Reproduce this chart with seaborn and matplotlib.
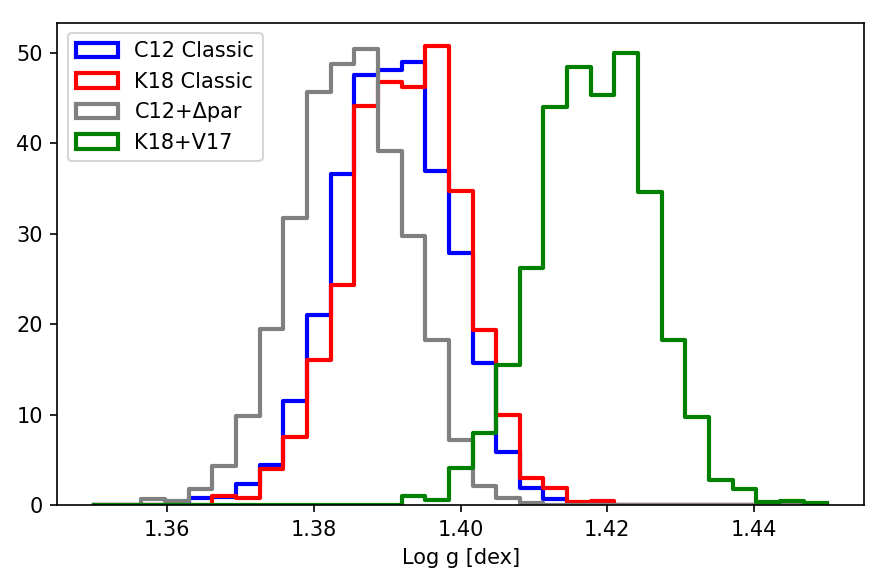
import numpy as np
import matplotlib
matplotlib.use("Agg")
import matplotlib.pyplot as plt
from matplotlib.patches import Patch
import seaborn as sns

# 31 bins between 1.35 and 1.45, heights are densities
nbins = 31
lo, hi = 1.35, 1.45
edges = np.linspace(lo, hi, nbins + 1)
centers = 0.5 * (edges[:-1] + edges[1:])

labels = ["C12 Classic", "K18 Classic", "C12+Δpar", "K18+V17"]
colors = ["blue", "red", "grey", "green"]

c12_classic = [0, 0, 0, 0, 0.73, 0.85, 2.32, 4.41, 11.48, 20.97,
               36.6, 47.5, 48.1, 48.97, 36.98, 27.85, 15.7, 5.89, 1.84, 0.63,
               0, 0, 0, 0, 0, 0, 0, 0, 0, 0, 0]
k18_classic = [0, 0, 0, 0, 0, 0.99, 0.73, 3.94, 7.54, 16.0,
               24.36, 44.15, 46.8, 46.2, 50.8, 34.7, 19.3, 9.93, 3.02, 1.84,
               0.3, 0.42, 0, 0, 0, 0, 0, 0, 0, 0, 0]
c12_dpar = [0, 0, 0.7, 0.47, 1.73, 4.34, 9.86, 19.5, 31.7, 45.7,
            48.8, 50.4, 39.1, 29.7, 18.3, 7.2, 2.1, 0.77, 0.26, 0,
            0, 0, 0, 0, 0, 0, 0, 0, 0, 0, 0]
k18_v17 = [0, 0, 0, 0, 0, 0, 0, 0, 0, 0,
           0, 0, 0, 1.05, 0.6, 4.14, 8.0, 15.45, 26.2, 43.96,
           48.45, 45.3, 50.0, 34.66, 18.2, 9.75, 2.76, 1.73, 0.29, 0.44, 0.18]

series = [c12_classic, k18_classic, c12_dpar, k18_v17]

dpi = 150
fig = plt.figure(figsize=(886 / dpi, 586 / dpi), dpi=dpi)
ax = fig.add_axes([0.0647, 0.1382, 0.9752 - 0.0647, 0.9613 - 0.1382])

lw = 2
for vals, c in zip(series, colors):
    sns.histplot(x=centers, weights=np.array(vals), bins=nbins, binrange=(lo, hi),
                 stat="count", element="step", fill=False, color=c,
                 linewidth=lw, ax=ax)

span = hi - lo
ax.set_xlim(lo - 0.05 * span, hi + 0.05 * span)
ymax = max(max(s) for s in series)
ax.set_ylim(0, ymax * 1.05)

ax.set_xlabel("Log g [dex]")
ax.set_ylabel("")

handles = [Patch(facecolor="none", edgecolor=c, linewidth=lw) for c in colors]
ax.legend(handles, labels, loc="upper left")

fig.savefig("out.png", dpi=dpi)
